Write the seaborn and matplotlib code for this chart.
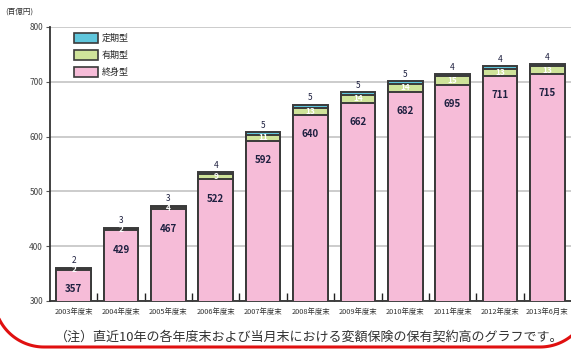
import matplotlib
matplotlib.use("Agg")
import matplotlib.pyplot as plt
from matplotlib.patches import Patch
import seaborn as sns
import pandas as pd
import numpy as np

# Holdings of variable insurance by type (unit: 百億円)
periods = ["2003年度末", "2004年度末", "2005年度末", "2006年度末", "2007年度末",
           "2008年度末", "2009年度末", "2010年度末", "2011年度末", "2012年度末",
           "2013年6月末"]
whole_life = [357, 429, 467, 522, 592, 640, 662, 682, 695, 711, 715]   # 終身型
endowment = [2, 2, 4, 9, 11, 13, 14, 14, 15, 13, 13]                  # 有期型
term = [2, 3, 3, 4, 5, 5, 5, 5, 4, 4, 4]                               # 定期型

y_ticks = [300, 400, 500, 600, 700, 800]

sns.set_theme(style="white")
plt.rcParams["font.family"] = ["Noto Sans CJK JP", "DejaVu Sans"]

c_term = "#5fc6dc"
c_end = "#cfe39a"
c_whole = "#f6bcd8"
edge = "#3a3a3a"
label_col = "#1e2040"

df = pd.DataFrame({"period": periods, "whole": whole_life,
                   "endow": endowment, "term": term})
df["lvl2"] = df["whole"] + df["endow"]
df["lvl3"] = df["lvl2"] + df["term"]

fig = plt.figure(figsize=(5.71, 3.49), dpi=100)

# background layer in pixel units (y downwards) for the rounded red frame
bg = fig.add_axes([0, 0, 1, 1], zorder=-1)
bg.set_xlim(0, 571)
bg.set_ylim(349, 0)
bg.set_autoscale_on(False)
bg.axis("off")
r = 50
t = np.linspace(0, np.pi / 2, 40)
left_x, left_cy, bottom_y, right_x = -6, 297, 347, 590
fx = np.concatenate([[left_x], left_x + r - r * np.cos(t),
                     right_x - r + r * np.sin(t), [right_x]])
fy = np.concatenate([[-10], left_cy + r * np.sin(t),
                     left_cy + r * np.cos(t), [-10]])
bg.plot(fx, fy, color="#e01010", linewidth=2.2, solid_capstyle="round")

ax = fig.add_axes([50 / 571, 48 / 349, 521 / 571, 274 / 349])
ax.patch.set_alpha(0)

for col, color in [("lvl3", c_term), ("lvl2", c_end), ("whole", c_whole)]:
    sns.barplot(data=df, x="period", y=col, color=color, width=0.73,
                edgecolor=edge, linewidth=1.4, saturation=1, ax=ax,
                errorbar=None, zorder=3)

ax.set_ylim(300, 800)
ax.set_xlim(-0.5, len(periods) - 0.5)
ax.set_yticks(y_ticks)
ax.set_yticklabels([str(v) for v in y_ticks], fontsize=6, color="#444444")
ax.set_xlabel("")
ax.set_ylabel("")
ax.set_xticks(range(len(periods)))
ax.set_xticklabels(periods, fontsize=5.3, color="#333333")
ax.tick_params(axis="x", length=0, pad=5)
ax.tick_params(axis="y", length=3, width=0.8, color="#555555", direction="out", pad=2, left=True)
ax.set_xticks(np.arange(0.5, len(periods) - 0.5, 1), minor=True)
ax.tick_params(axis="x", which="minor", direction="in", length=6, width=1,
               color="#222222", bottom=True)

ax.yaxis.grid(True, color="#c4c4c4", linewidth=1.2, zorder=0)
ax.set_axisbelow(True)
for s in ["top", "right"]:
    ax.spines[s].set_visible(False)
for s in ["left", "bottom"]:
    ax.spines[s].set_color("#333333")
    ax.spines[s].set_linewidth(1.3)

# value labels
for i in range(len(periods)):
    ax.annotate(str(whole_life[i]), (i, whole_life[i]), xytext=(0, -14),
                textcoords="offset points", ha="center", va="center",
                fontsize=7, color=label_col, fontweight="bold", zorder=5)
    mid = whole_life[i] + endowment[i] / 2
    ax.annotate(str(endowment[i]), (i, mid), xytext=(0, 0),
                textcoords="offset points", ha="center", va="center",
                fontsize=6, color="#ffffff", fontweight="bold", zorder=5)
    ax.annotate(str(term[i]), (i, df["lvl3"][i]), xytext=(0, 5),
                textcoords="offset points", ha="center", va="center",
                fontsize=6, color=label_col, zorder=5)

handles = [Patch(facecolor=c_term, edgecolor=edge, linewidth=1.2, label="定期型"),
           Patch(facecolor=c_end, edgecolor=edge, linewidth=1.2, label="有期型"),
           Patch(facecolor=c_whole, edgecolor=edge, linewidth=1.2, label="終身型")]
ax.legend(handles=handles, loc="upper left", bbox_to_anchor=(0.04, 0.99),
          frameon=False, fontsize=6.5, handlelength=2.6, handleheight=1.3,
          labelspacing=0.75, handletextpad=0.4, borderaxespad=0)

fig.text(5 / 571, 1 - 12 / 349, "(百億円)", fontsize=5.5, color="#333333",
         ha="left", va="center")
fig.text(55 / 571, 1 - 337 / 349,
         "（注）直近10年の各年度末および当月末における変額保険の保有契約高のグラフです。",
         fontsize=9.4, color="#333333", ha="left", va="center")

fig.savefig("out.png", dpi=100)
